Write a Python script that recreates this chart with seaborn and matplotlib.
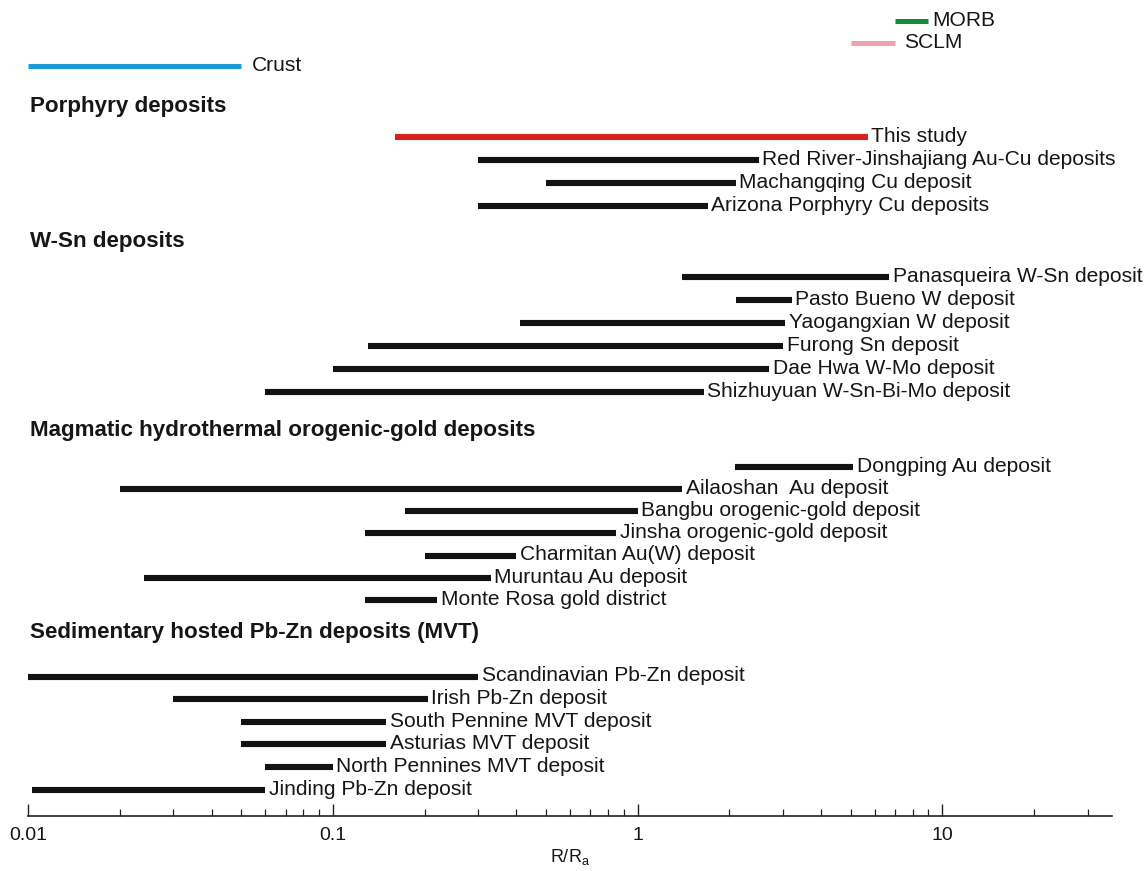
import numpy as np
import pandas as pd
import matplotlib
matplotlib.use("Agg")
import matplotlib.pyplot as plt
import matplotlib.transforms as mtransforms
import seaborn as sns

# ---------------- data ----------------
ref_names = ["MORB", "SCLM", "Crust"]
ref_low = [7.0, 5.0, 0.01]
ref_high = [9.0, 7.0, 0.05]

group_titles = ["Porphyry deposits", "W-Sn deposits",
                "Magmatic hydrothermal orogenic-gold deposits",
                "Sedimentary hosted Pb-Zn deposits (MVT)"]

porphyry_names = ["This study", "Red River-Jinshajiang Au-Cu deposits",
                  "Machangqing Cu deposit", "Arizona Porphyry Cu deposits"]
porphyry_low = [0.16, 0.30, 0.50, 0.30]
porphyry_high = [5.7, 2.5, 2.1, 1.7]

wsn_names = ["Panasqueira W-Sn deposit", "Pasto Bueno W deposit",
             "Yaogangxian W deposit", "Furong Sn deposit",
             "Dae Hwa W-Mo deposit", "Shizhuyuan W-Sn-Bi-Mo deposit"]
wsn_low = [1.4, 2.1, 0.41, 0.13, 0.10, 0.06]
wsn_high = [6.7, 3.2, 3.05, 3.0, 2.7, 1.65]

gold_names = ["Dongping Au deposit", "Ailaoshan  Au deposit",
              "Bangbu orogenic-gold deposit", "Jinsha orogenic-gold deposit",
              "Charmitan Au(W) deposit", "Muruntau Au deposit",
              "Monte Rosa gold district"]
gold_low = [2.08, 0.02, 0.173, 0.128, 0.20, 0.024, 0.128]
gold_high = [5.1, 1.4, 1.0, 0.85, 0.40, 0.33, 0.22]

mvt_names = ["Scandinavian Pb-Zn deposit", "Irish Pb-Zn deposit",
             "South Pennine MVT deposit", "Asturias MVT deposit",
             "North Pennines MVT deposit", "Jinding Pb-Zn deposit"]
mvt_low = [0.01, 0.030, 0.05, 0.05, 0.06, 0.0103]
mvt_high = [0.30, 0.205, 0.15, 0.15, 0.10, 0.06]

tick_values = [0.01, 0.1, 1, 10]
tick_labels = ["0.01", "0.1", "1", "10"]

# ---------------- layout (row positions) ----------------
ref_rows = [0.91, 1.87, 2.87]
ref_label_gap = [3, 6, 8]
header_rows = [4.65, 10.48, 18.70, 27.52]
first_row_offset = [1.31, 1.56, 1.60, 1.90]
row_pitch = [1.0, 1.0, 0.965, 0.983]

groups = [(porphyry_names, porphyry_low, porphyry_high),
          (wsn_names, wsn_low, wsn_high),
          (gold_names, gold_low, gold_high),
          (mvt_names, mvt_low, mvt_high)]

ref_colors = {"MORB": "#0f8a3e", "SCLM": "#eda3aa", "Crust": "#1d9ad8"}
BLACK = "#141111"
RED = "#d6231f"

records = []
label_pos = []
for n, lo, hi, y, g in zip(ref_names, ref_low, ref_high, ref_rows, ref_label_gap):
    records += [dict(name=n, x=lo, y=y), dict(name=n, x=hi, y=y)]
    label_pos.append((n, hi, y, g))
palette = dict(ref_colors)
for gi, (names, lows, highs) in enumerate(groups):
    for i, (n, lo, hi) in enumerate(zip(names, lows, highs)):
        y = header_rows[gi] + first_row_offset[gi] + i * row_pitch[gi]
        records += [dict(name=n, x=lo, y=y), dict(name=n, x=hi, y=y)]
        label_pos.append((n, hi, y, 2.5))
        palette[n] = RED if n == "This study" else BLACK
df = pd.DataFrame(records)

# ---------------- plot ----------------
sns.set_theme(style="white")
plt.rcParams["font.family"] = ["Liberation Sans", "DejaVu Sans"]

W, H = 1146, 871
fig = plt.figure(figsize=(W / 100, H / 100), dpi=100)
left_px, right_px, bottom_px = 28, 1112, 816
ax = fig.add_axes([left_px / W, (H - bottom_px) / H,
                   (right_px - left_px) / W, bottom_px / H])

ax.set_xscale("log")
sns.lineplot(data=df, x="x", y="y", hue="name", units="name", estimator=None,
             palette=palette, legend=False, linewidth=4.4, sort=False, ax=ax)
for line in ax.get_lines():
    line.set_solid_capstyle("butt")
    c = matplotlib.colors.to_hex(line.get_color())
    if c in ref_colors.values():
        line.set_linewidth(3.6)

ax.set_xlim(0.01, 36)
ax.set_ylim(bottom_px / 23.0, 0)

for n, hi, y, g in label_pos:
    ax.annotate(n, xy=(hi, y), xytext=(g, 0.5), textcoords="offset points",
                ha="left", va="center", fontsize=15.1, color="#161616")

blend = mtransforms.blended_transform_factory(fig.transFigure, ax.transData)
for t, y in zip(group_titles, header_rows):
    ax.text(30 / W, y, t, transform=blend,
            ha="left", va="center", fontsize=16.1, fontweight="bold", color="#161616")

for s in ["top", "right", "left"]:
    ax.spines[s].set_visible(False)
ax.spines["bottom"].set_color("#222222")
ax.spines["bottom"].set_linewidth(1.2)

ax.set_yticks([])
ax.set_xticks(tick_values)
ax.set_xticklabels(tick_labels)
ax.xaxis.set_minor_locator(matplotlib.ticker.LogLocator(base=10, subs=np.arange(2, 10)))
ax.xaxis.set_minor_formatter(matplotlib.ticker.NullFormatter())
ax.tick_params(axis="x", which="major", direction="in", length=9, width=1.0,
               color="#222222", bottom=True, labelsize=14, pad=8, labelcolor="#161616")
ax.tick_params(axis="x", which="minor", direction="in", length=5, width=0.9,
               color="#222222", bottom=True)
ax.set_xlabel("R/R$_\\mathregular{a}$", fontsize=13, labelpad=2, color="#161616")
ax.set_ylabel("")

fig.savefig("out.png", dpi=100, facecolor="white")
